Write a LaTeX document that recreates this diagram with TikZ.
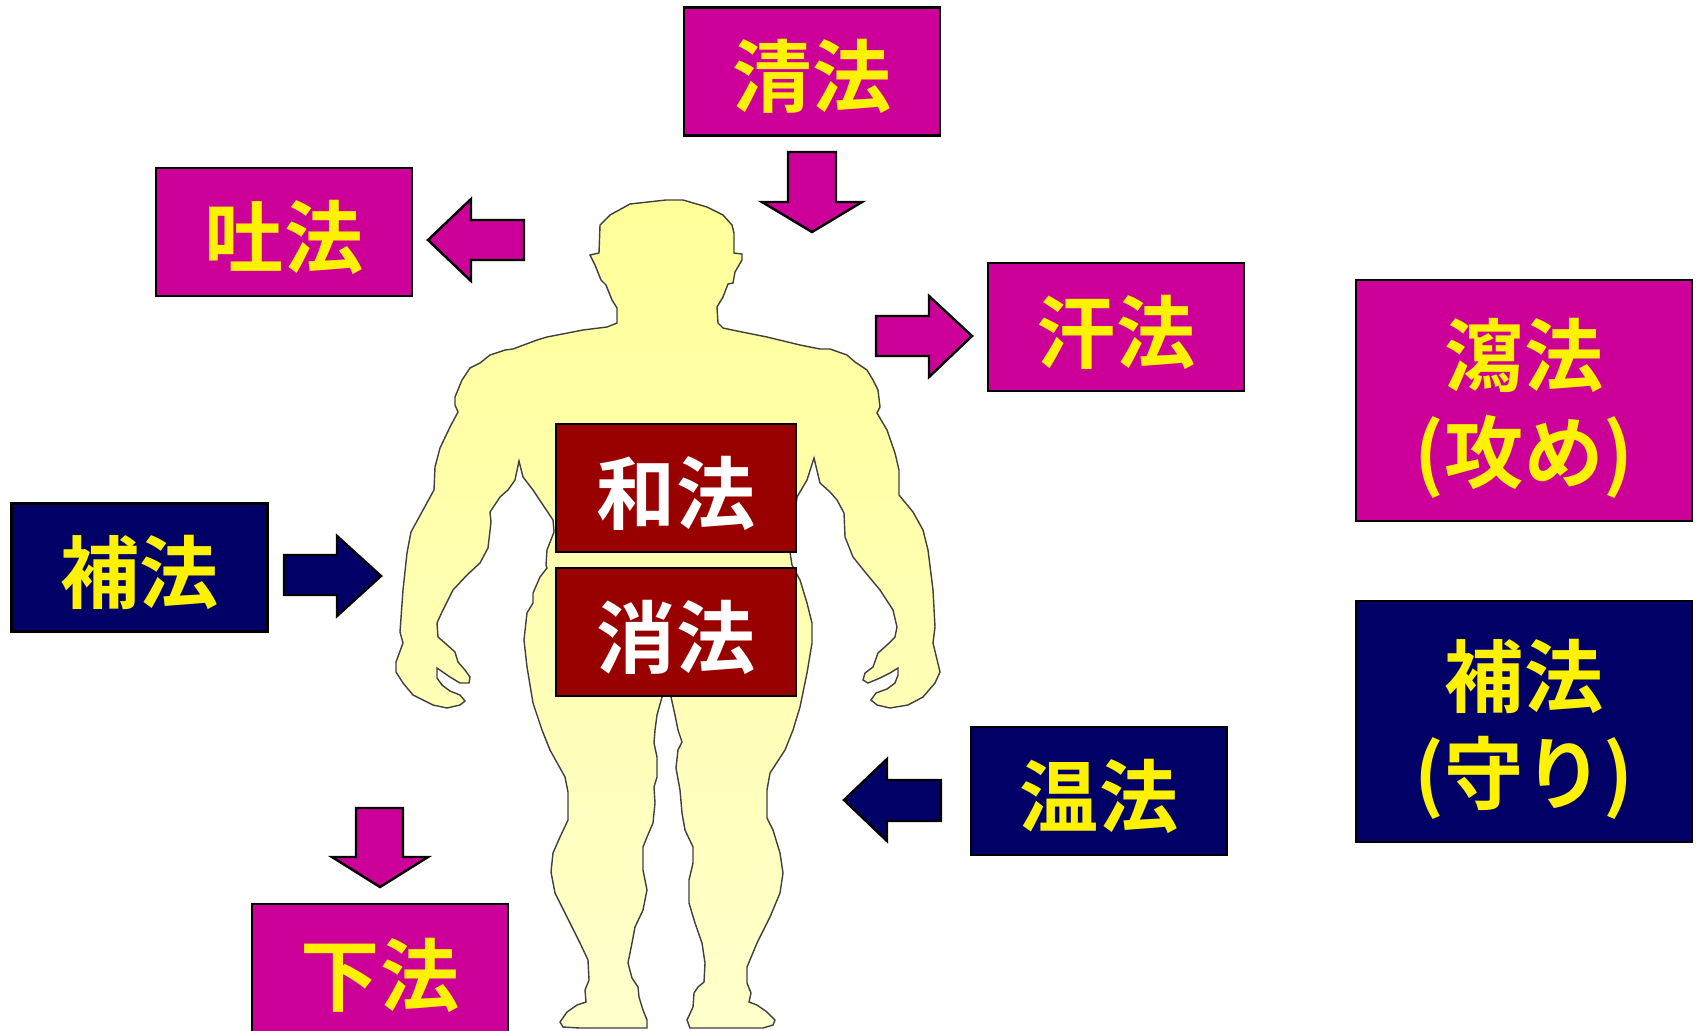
\documentclass[tikz,border=0pt]{standalone}
\usepackage{fontspec}
\newfontfamily\jpfont{Noto Sans CJK JP Bold}
\definecolor{shapink}{HTML}{CC0099}
\definecolor{honavy}{HTML}{000066}
\definecolor{wared}{HTML}{990000}
\definecolor{skintop}{HTML}{FFFF99}
\definecolor{skinbot}{HTML}{FFFFCC}
\tikzset{
	method/.style={draw=black, line width=0.7pt, inner sep=0pt, minimum width=2.56cm, minimum height=1.28cm, text height=0.8cm, text depth=0.1cm, text=yellow, align=center, font=\jpfont\fontsize{22.5}{27.5}\selectfont},
	attack/.style={method, fill=shapink},
	guard/.style={method, fill=honavy},
	centre/.style={method, fill=wared, text=white, minimum width=2.4cm},
	bigbox/.style={minimum width=3.36cm, minimum height=2.41cm, text height={}, text depth=-0.02cm},
	fatarrow/.style={draw=black, line width=0.7pt, line join=miter},
}

\begin{document}
\begin{tikzpicture}[x=0.01cm, y=-0.01cm]
			%%%%% START %%%%%
			\useasboundingbox (0, 0) rectangle (1700, 1030);
			
			% body outline
			\draw[draw=black!75, line width=0.4pt, top color=skintop, bottom color=skinbot]
			(666,200) -- (630,204) -- (610,215) -- (600,225) -- (599,253) -- (590,255) -- (595,265) -- (601,280) -- (606,285) -- (612,300) -- (617,308) -- (617,323) -- (607,327) -- (583,330) -- (547,337) -- (537,340) -- (513,349) -- (505,350) -- (490,355) -- (480,363) -- (470,368) -- (462,380) -- (455,397) -- (455,405) -- (458,412) -- (450,427) -- (440,448) -- (435,467) -- (434,490)
			-- (423,510) -- (411,532) -- (407,553) -- (403,590) -- (400,632) -- (403,643) -- (396,662) -- (396,672) -- (403,683) -- (413,695) -- (433,705) -- (447,708) -- (460,705) -- (465,701) -- (460,695) -- (450,691) -- (442,685) -- (437,678) -- (437,668) -- (450,677) -- (460,683) -- (469,683) -- (470,677) -- (465,670) -- (458,662) -- (455,652) -- (445,643) -- (438,637) -- (437,623) -- (442,612) -- (453,590) -- (467,575) -- (480,563) -- (488,548) -- (491,522) -- (490,512) -- (500,497) -- (508,490) -- (515,480) -- (519,461)
			-- (523,477) -- (533,490) -- (553,520) -- (554,532) -- (547,550) -- (546,565) -- (547,568) -- (540,577) -- (533,593) -- (533,603) -- (527,613) -- (524,640) -- (527,667) -- (533,703) -- (542,730) -- (550,750) -- (565,777) -- (568,792) -- (568,820) -- (560,837) -- (553,853) -- (551,872) -- (555,893) -- (567,917) -- (580,943) -- (588,960) -- (589,980) -- (585,990) -- (586,1002) -- (577,1005) -- (567,1012) -- (560,1022) -- (563,1027) -- (580,1028)
			-- (647,1028) -- (647,1020) -- (643,1010) -- (639,997) -- (638,987) -- (632,978) -- (628,963) -- (632,943) -- (635,927) -- (643,910) -- (647,890) -- (643,870) -- (643,847) -- (647,837) -- (653,823) -- (655,803) -- (654,787) -- (657,777) -- (657,757) -- (654,743) -- (655,730) -- (657,715) -- (662,697) -- (667,690)
			-- (671,697) -- (675,715) -- (678,730) -- (682,742) -- (678,750) -- (676,768) -- (680,790) -- (682,813) -- (685,830) -- (693,847) -- (693,863) -- (689,880) -- (689,903) -- (695,923) -- (702,943) -- (705,963) -- (704,982) -- (698,987) -- (694,993) -- (693,1007) -- (687,1020) -- (690,1028)
			-- (763,1028) -- (773,1025) -- (775,1020) -- (767,1012) -- (757,1005) -- (749,1002) -- (751,993) -- (747,983) -- (747,967) -- (757,943) -- (770,917) -- (780,893) -- (783,873) -- (780,853) -- (773,830) -- (767,818) -- (767,790) -- (770,773) -- (785,750) -- (793,730) -- (800,707) -- (807,673) -- (812,643) -- (812,623) -- (807,603) -- (800,580) -- (792,565) -- (790,552) -- (797,497) -- (807,480) -- (814,458)
			-- (820,483) -- (830,492) -- (837,500) -- (844,513) -- (845,537) -- (853,557) -- (865,572) -- (880,590) -- (893,610) -- (897,627) -- (895,637) -- (887,645) -- (878,653) -- (873,667) -- (865,673) -- (863,680) -- (868,683) -- (880,678) -- (890,673) -- (898,668) -- (898,675) -- (895,683) -- (887,689) -- (876,693) -- (871,700) -- (877,705) -- (890,708) -- (908,705) -- (923,697) -- (935,683) -- (940,672) -- (933,643) -- (935,627) -- (933,590) -- (928,550) -- (923,530) -- (913,512) -- (899,495) -- (899,480)
			-- (899,470) -- (895,453) -- (887,430) -- (877,413) -- (880,407) -- (878,390) -- (873,380) -- (867,370) -- (855,362) -- (847,355) -- (830,349) -- (820,349) -- (800,345) -- (767,337) -- (737,331) -- (723,328) -- (718,323) -- (717,307) -- (723,297) -- (728,284) -- (733,283) -- (735,272) -- (742,260) -- (742,254) -- (734,253) -- (734,233) -- (732,225) -- (723,215) -- (707,207) -- (683,200) -- cycle;
			
			% methods
			\node[attack] (seihou) at (812, 71.5) {清法};
			\node[attack] (tohou) at (284, 232) {吐法};
			\node[attack] (kanpou) at (1116, 327) {汗法};
			\node[attack, minimum height=1.32cm] (gehou) at (380, 970) {下法};
			\node[guard] (hohou) at (139.5, 567.5) {補法};
			\node[guard] (onpou) at (1099, 791) {温法};
			\node[centre] (wahou) at (676, 488) {和法};
			\node[centre] (shouhou) at (676, 632) {消法};
			
			\node[attack, bigbox] (shahou) at (1524, 400.5) {瀉法\\(攻め)};
			\node[guard, bigbox] (hohou2) at (1524, 721.5) {補法\\(守り)};
			
			% block arrows
			\draw[fatarrow, fill=shapink] (788,152) -- (836,152) -- (836,202) -- (862,202) -- (812,232) -- (762,202) -- (788,202) -- cycle;
			\draw[fatarrow, fill=shapink] (428,240) -- (471,199) -- (471,220) -- (524,220) -- (524,260) -- (471,260) -- (471,281) -- cycle;
			\draw[fatarrow, fill=shapink] (876,316) -- (929,316) -- (929,296) -- (972,336) -- (929,377) -- (929,356) -- (876,356) -- cycle;
			\draw[fatarrow, fill=shapink] (356,808) -- (403,808) -- (403,857) -- (428,857) -- (380,887) -- (332,857) -- (356,857) -- cycle;
			\draw[fatarrow, fill=honavy] (284,555) -- (337,555) -- (337,536) -- (381,576) -- (337,616) -- (337,595) -- (284,595) -- cycle;
			\draw[fatarrow, fill=honavy] (844,800) -- (887,759) -- (887,780) -- (941,780) -- (941,821) -- (887,821) -- (887,841) -- cycle;
			
			%%%%% END %%%%%
\end{tikzpicture}
\end{document}
